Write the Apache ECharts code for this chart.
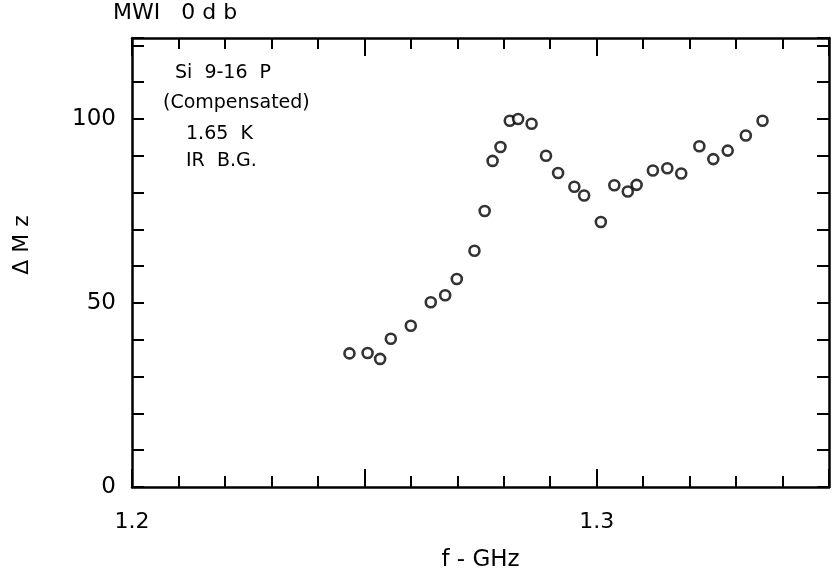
<!DOCTYPE html>
<html>
<head>
<meta charset="utf-8">
<script src="https://cdn.jsdelivr.net/npm/echarts@6/dist/echarts.min.js"></script>
<style>
html,body{margin:0;padding:0;background:#fff;}
#chart{width:835px;height:577px;}
</style>
</head>
<body>
<div id="chart"></div>
<script>
// Frequency (GHz)
const freq = [1.2468, 1.2507, 1.2534, 1.2557, 1.2600, 1.2643, 1.2674, 1.2699, 1.2737, 1.2759,
  1.2776, 1.2793, 1.2813, 1.2831, 1.2860, 1.2891, 1.2917, 1.2952, 1.2973, 1.3009,
  1.3038, 1.3067, 1.3086, 1.3121, 1.3152, 1.3182, 1.3221, 1.3251, 1.3282, 1.3321, 1.3357];
// Delta Mz
const dMz = [36.3, 36.4, 34.8, 40.3, 43.8, 50.2, 52.1, 56.5, 64.2, 75.0,
  88.6, 92.4, 99.5, 100.0, 98.7, 90.0, 85.3, 81.6, 79.2, 72.0,
  82.0, 80.3, 82.1, 86.0, 86.6, 85.2, 92.6, 89.1, 91.4, 95.5, 99.5];
const xTickLabels = [1.2, 1.3];
const yTickLabels = [0, 50, 100];
const annotation = ['Si  9-16  P', '(Compensated)', '1.65  K', 'IR  B.G.'];

const FONT = 'DejaVu Sans';
const chart = echarts.init(document.getElementById('chart'), null, {renderer: 'canvas'});

const pts = freq.map((f, i) => [f, dMz[i]]);
const near = (v, arr) => arr.some(a => Math.abs(v - a) < 1e-6);

const axisLineStyle = {color: '#000', width: 2.5};
const xBase = {
  type: 'value', min: 1.2, max: 1.35, interval: 0.05,
  axisLine: {show: true, onZero: false, lineStyle: axisLineStyle},
  axisTick: {show: true, inside: true, length: 18, lineStyle: {color: '#000', width: 2}},
  minorTick: {show: true, splitNumber: 5, length: 11, lineStyle: {color: '#000', width: 2}},
  splitLine: {show: false}
};
const yBase = {
  type: 'value', min: 0, max: 122, interval: 10,
  axisLine: {show: true, onZero: false, lineStyle: axisLineStyle},
  axisTick: {show: true, inside: true, length: 12, lineStyle: {color: '#000', width: 2}},
  splitLine: {show: false}
};

chart.setOption({
  backgroundColor: '#fff',
  animation: false,
  grid: {left: 132, right: 6, top: 38, bottom: 84, containLabel: false},
  xAxis: [
    Object.assign({}, xBase, {
      position: 'bottom',
      name: 'f - GHz', nameLocation: 'middle', nameGap: 62,
      nameTextStyle: {fontFamily: FONT, fontSize: 23, color: '#000'},
      axisLabel: {show: true, margin: 24, fontFamily: FONT, fontSize: 22, color: '#000',
        formatter: v => near(v, xTickLabels) ? v.toFixed(1) : ''}
    }),
    Object.assign({}, xBase, {position: 'top', axisLabel: {show: false}})
  ],
  yAxis: [
    Object.assign({}, yBase, {
      position: 'left',
      axisLabel: {show: true, margin: 16, fontFamily: FONT, fontSize: 23, color: '#000',
        formatter: v => near(v, yTickLabels) ? String(v) : ''}
    }),
    Object.assign({}, yBase, {position: 'right', axisLabel: {show: false}})
  ],
  series: [{
    type: 'scatter', xAxisIndex: 0, yAxisIndex: 0,
    data: pts, symbol: 'circle', symbolSize: 10,
    itemStyle: {color: '#fff', borderColor: '#000', borderWidth: 2.6}
  }],
  graphic: [
    {type: 'text', left: 113, top: 2, style: {text: 'MWI   0 d b', font: '22px "' + FONT + '"', fill: '#000'}},
    {type: 'text', x: 22, y: 245, rotation: Math.PI / 2,
      style: {text: 'Δ M z', font: '22px "' + FONT + '"', fill: '#000', align: 'center', verticalAlign: 'middle'}},
    {type: 'text', left: 175, top: 64, style: {text: annotation[0], font: '19px "' + FONT + '"', fill: '#000'}},
    {type: 'text', left: 163, top: 94, style: {text: annotation[1], font: '19px "' + FONT + '"', fill: '#000'}},
    {type: 'text', left: 186, top: 125, style: {text: annotation[2], font: '19px "' + FONT + '"', fill: '#000'}},
    {type: 'text', left: 186, top: 152, style: {text: annotation[3], font: '19px "' + FONT + '"', fill: '#000'}}
  ]
});
</script>
</body>
</html>
